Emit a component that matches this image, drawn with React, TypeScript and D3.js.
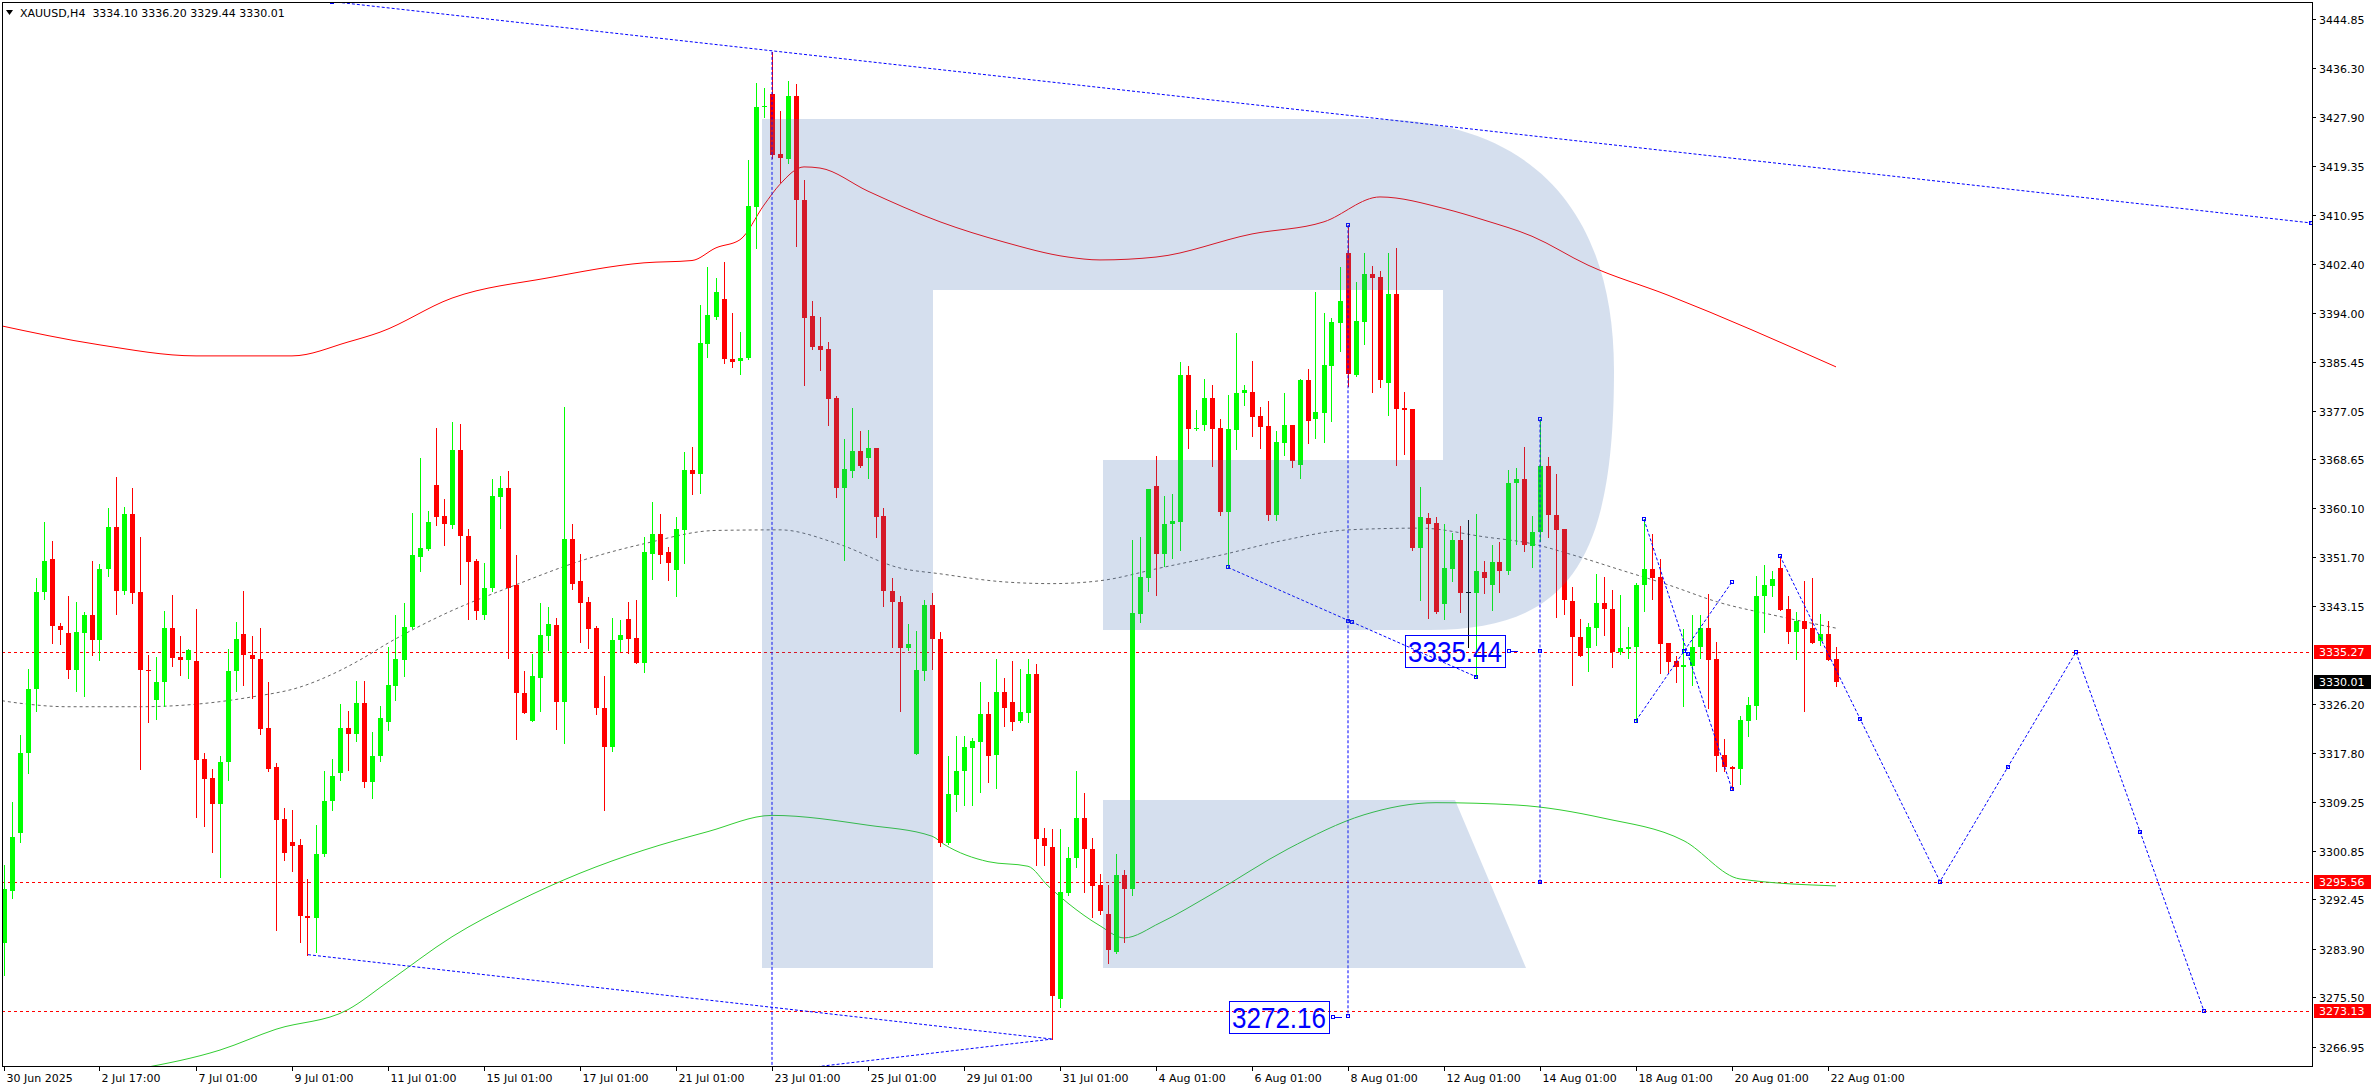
import React, { useEffect, useRef } from 'react';
import * as d3 from 'd3';

const W = 2376;
const H = 1090;
const PLOT_L = 2;
const PLOT_T = 2;
const PLOT_R = 2312;
const PLOT_B = 1066;

// H4 candles, one per bar index: [open, high, low, close]
const candles: number[][] = [
  [3284.9, 3298.5, 3279.4, 3294.2], [3294.0, 3309.4, 3292.7, 3303.2], [3304.0, 3320.9, 3302.4, 3317.8],
  [3317.8, 3332.3, 3314.3, 3328.8], [3328.8, 3348.0, 3325.1, 3345.7], [3345.7, 3357.8, 3344.4, 3351.1],
  [3351.3, 3354.4, 3336.9, 3339.7], [3339.7, 3340.3, 3336.7, 3339.1], [3338.5, 3344.9, 3330.8, 3332.1],
  [3332.1, 3343.9, 3328.6, 3338.7], [3338.6, 3342.2, 3327.6, 3341.7], [3341.7, 3351.1, 3334.8, 3337.4],
  [3337.4, 3350.5, 3333.8, 3349.7], [3349.6, 3360.1, 3348.4, 3356.9], [3356.9, 3365.6, 3341.9, 3345.9],
  [3345.9, 3360.3, 3345.3, 3359.2], [3359.2, 3363.7, 3343.8, 3345.5], [3345.6, 3355.2, 3315.0, 3332.1],
  [3332.1, 3334.8, 3323.1, 3332.0], [3326.9, 3334.4, 3323.6, 3330.1], [3330.1, 3342.4, 3326.0, 3339.4],
  [3339.4, 3345.1, 3332.9, 3334.3], [3334.4, 3338.0, 3331.3, 3333.8], [3333.8, 3335.8, 3330.8, 3335.6],
  [3333.7, 3342.7, 3306.7, 3316.6], [3316.7, 3317.8, 3305.1, 3313.3], [3313.4, 3315.1, 3300.7, 3309.0],
  [3309.0, 3317.2, 3296.3, 3316.3], [3316.3, 3335.8, 3313.2, 3332.0], [3332.0, 3340.5, 3328.5, 3337.5],
  [3338.3, 3345.8, 3329.6, 3334.7], [3334.8, 3338.0, 3327.3, 3334.0], [3334.1, 3339.4, 3321.0, 3321.9],
  [3322.2, 3330.0, 3314.7, 3315.1], [3315.3, 3316.0, 3287.1, 3306.2], [3306.3, 3308.2, 3299.3, 3300.5],
  [3302.4, 3308.0, 3297.3, 3301.7], [3301.9, 3303.0, 3285.1, 3289.6], [3289.6, 3296.0, 3282.9, 3289.3],
  [3289.3, 3305.3, 3283.4, 3300.3], [3300.3, 3314.6, 3299.9, 3309.5], [3309.5, 3316.8, 3308.0, 3313.9],
  [3314.3, 3326.3, 3313.2, 3322.2], [3322.2, 3325.1, 3314.8, 3321.1], [3321.1, 3330.3, 3319.8, 3326.5],
  [3326.5, 3330.3, 3311.9, 3312.7], [3312.7, 3321.5, 3310.0, 3317.3], [3317.3, 3326.0, 3316.4, 3323.9],
  [3323.1, 3336.1, 3321.7, 3329.6], [3329.4, 3341.7, 3327.0, 3334.1], [3333.9, 3343.8, 3331.1, 3339.6],
  [3339.6, 3359.4, 3339.4, 3352.1], [3351.7, 3368.9, 3349.2, 3353.3], [3353.1, 3359.7, 3353.0, 3357.8],
  [3364.1, 3374.1, 3357.2, 3358.6], [3358.8, 3361.7, 3353.7, 3357.5], [3357.3, 3375.1, 3356.7, 3370.3],
  [3370.3, 3374.8, 3347.1, 3355.3], [3355.4, 3356.5, 3340.9, 3350.9], [3351.1, 3351.3, 3341.0, 3342.4],
  [3341.7, 3350.7, 3341.0, 3346.4], [3346.3, 3365.2, 3345.8, 3362.3], [3362.1, 3365.7, 3356.7, 3363.6],
  [3363.6, 3366.6, 3334.3, 3346.3], [3346.8, 3352.1, 3320.2, 3328.1], [3328.2, 3331.9, 3324.8, 3324.8],
  [3323.3, 3335.0, 3323.3, 3331.1], [3330.8, 3343.8, 3325.0, 3338.2], [3338.0, 3343.1, 3335.7, 3340.1],
  [3339.9, 3341.2, 3321.9, 3326.7], [3326.7, 3377.7, 3319.6, 3354.8], [3354.8, 3357.5, 3346.2, 3347.0],
  [3347.5, 3352.3, 3337.0, 3343.8], [3344.0, 3344.8, 3335.9, 3339.2], [3339.5, 3339.7, 3324.6, 3325.5],
  [3325.6, 3331.2, 3308.0, 3318.9], [3318.9, 3341.1, 3318.2, 3337.4], [3337.3, 3340.8, 3335.4, 3338.2],
  [3341.0, 3344.0, 3335.1, 3337.6], [3337.7, 3344.3, 3333.3, 3333.3], [3333.3, 3355.1, 3331.8, 3352.5],
  [3352.3, 3361.3, 3347.9, 3355.6], [3355.6, 3359.2, 3350.6, 3352.1], [3352.5, 3353.5, 3347.7, 3350.7],
  [3349.5, 3358.7, 3344.9, 3356.6], [3356.3, 3369.8, 3350.6, 3366.8], [3366.8, 3370.8, 3362.6, 3366.1],
  [3366.0, 3395.3, 3362.8, 3388.7], [3388.6, 3401.8, 3386.3, 3393.5], [3393.3, 3399.9, 3392.9, 3397.6],
  [3396.4, 3402.8, 3385.2, 3385.9], [3386.0, 3394.0, 3384.5, 3385.4], [3385.6, 3390.7, 3383.3, 3386.2],
  [3386.1, 3420.4, 3385.9, 3412.5], [3412.3, 3433.8, 3405.2, 3429.5], [3429.5, 3432.8, 3427.8, 3429.8],
  [3431.8, 3439.1, 3420.7, 3421.3], [3421.4, 3428.8, 3416.6, 3420.7], [3420.6, 3434.0, 3419.8, 3431.5],
  [3431.5, 3433.5, 3405.5, 3413.5], [3413.5, 3416.9, 3381.4, 3393.1], [3393.4, 3396.0, 3387.7, 3388.0],
  [3388.2, 3393.3, 3384.1, 3387.6], [3387.7, 3388.9, 3374.5, 3379.0], [3379.2, 3379.6, 3362.1, 3363.6],
  [3363.6, 3372.1, 3351.2, 3366.9], [3366.6, 3377.5, 3365.6, 3370.0], [3370.0, 3373.5, 3367.2, 3367.4],
  [3368.9, 3373.7, 3365.3, 3370.6], [3370.5, 3370.6, 3355.2, 3358.6], [3358.8, 3360.2, 3343.2, 3345.8],
  [3345.9, 3348.1, 3336.1, 3343.9], [3344.0, 3345.0, 3325.0, 3335.9], [3335.9, 3340.1, 3335.6, 3336.7],
  [3317.6, 3338.9, 3317.6, 3332.1], [3331.9, 3344.3, 3330.5, 3343.4], [3343.4, 3345.4, 3332.4, 3337.6],
  [3337.6, 3338.8, 3301.7, 3302.2], [3302.2, 3317.3, 3302.0, 3310.7], [3310.6, 3320.8, 3307.7, 3314.7],
  [3314.6, 3320.8, 3308.8, 3318.9], [3318.6, 3320.4, 3308.8, 3319.9], [3319.7, 3330.0, 3311.0, 3324.6],
  [3324.6, 3326.6, 3312.8, 3317.3], [3317.4, 3334.1, 3311.8, 3328.4], [3328.4, 3330.8, 3322.4, 3325.5],
  [3326.6, 3333.7, 3321.8, 3323.2], [3323.3, 3332.4, 3323.1, 3324.9], [3324.7, 3334.1, 3323.2, 3331.4],
  [3331.4, 3333.2, 3298.5, 3302.9], [3303.1, 3304.9, 3298.5, 3301.7], [3301.6, 3304.7, 3268.3, 3275.7],
  [3275.2, 3304.6, 3273.8, 3293.7], [3293.6, 3301.6, 3293.2, 3299.7], [3299.6, 3314.7, 3298.0, 3306.6],
  [3306.6, 3310.9, 3293.7, 3301.2], [3301.2, 3303.1, 3289.5, 3294.8], [3295.0, 3296.9, 3290.0, 3290.5],
  [3289.9, 3295.0, 3281.4, 3283.7], [3283.4, 3300.3, 3283.2, 3296.7], [3296.7, 3297.5, 3285.1, 3294.3],
  [3294.3, 3354.7, 3293.2, 3342.1], [3341.9, 3355.2, 3340.4, 3348.2], [3348.1, 3363.4, 3345.9, 3363.4],
  [3364.0, 3369.2, 3345.1, 3352.2], [3352.2, 3362.3, 3350.2, 3357.5], [3357.5, 3362.6, 3351.6, 3357.9],
  [3357.8, 3385.4, 3352.9, 3383.2], [3383.2, 3384.8, 3370.6, 3373.8], [3373.8, 3377.1, 3373.6, 3374.1],
  [3374.6, 3382.5, 3373.6, 3379.2], [3379.2, 3381.5, 3367.5, 3373.8], [3374.0, 3375.6, 3358.9, 3359.5],
  [3359.5, 3379.7, 3349.9, 3373.8], [3373.7, 3390.5, 3370.4, 3380.1], [3380.0, 3381.5, 3378.0, 3380.6],
  [3380.3, 3385.6, 3372.6, 3376.0], [3376.1, 3377.7, 3370.6, 3374.2], [3374.4, 3378.7, 3358.1, 3358.9],
  [3358.9, 3373.5, 3358.1, 3371.6], [3371.5, 3380.1, 3369.4, 3374.5], [3374.5, 3374.6, 3367.2, 3368.4],
  [3367.6, 3382.5, 3365.3, 3382.3], [3382.3, 3384.2, 3371.5, 3375.3], [3375.5, 3397.5, 3372.3, 3376.8],
  [3376.7, 3393.9, 3371.6, 3384.9], [3384.8, 3393.1, 3375.2, 3392.4], [3392.2, 3401.9, 3387.3, 3396.0],
  [3404.3, 3409.1, 3381.3, 3383.4], [3383.2, 3399.3, 3383.0, 3392.5], [3392.4, 3404.3, 3388.6, 3400.7],
  [3400.7, 3402.1, 3380.3, 3400.0], [3400.1, 3401.2, 3381.1, 3382.3], [3381.8, 3404.3, 3376.3, 3397.2],
  [3397.2, 3405.2, 3367.6, 3377.3], [3377.5, 3380.3, 3369.5, 3377.1], [3377.3, 3377.3, 3352.9, 3353.2],
  [3353.3, 3363.9, 3344.3, 3358.6], [3358.5, 3359.3, 3341.2, 3357.4], [3357.6, 3358.7, 3342.1, 3342.2],
  [3343.6, 3357.5, 3340.9, 3349.8], [3349.7, 3355.9, 3347.6, 3354.7], [3354.7, 3357.1, 3342.2, 3345.5],
  [3345.6, 3358.1, 3336.2, 3345.6], [3345.5, 3359.2, 3331.0, 3349.2], [3349.1, 3351.0, 3345.5, 3348.1],
  [3346.9, 3353.8, 3342.6, 3350.8], [3350.8, 3354.3, 3345.7, 3349.2], [3349.2, 3366.7, 3348.8, 3364.5],
  [3364.5, 3367.1, 3354.0, 3365.2], [3365.2, 3370.7, 3352.7, 3353.7], [3353.6, 3358.8, 3349.9, 3356.0],
  [3356.0, 3375.5, 3354.5, 3367.5], [3367.5, 3369.0, 3355.2, 3358.9], [3359.0, 3366.0, 3341.4, 3356.4],
  [3356.5, 3356.5, 3341.8, 3344.2], [3344.1, 3346.6, 3329.6, 3337.8], [3337.9, 3341.0, 3334.5, 3334.6],
  [3336.0, 3340.2, 3332.0, 3339.6], [3339.5, 3348.8, 3336.5, 3343.8], [3343.8, 3348.2, 3338.2, 3342.7],
  [3342.7, 3346.0, 3332.7, 3335.3], [3335.3, 3345.1, 3334.9, 3335.9], [3335.8, 3339.6, 3334.3, 3336.1],
  [3336.1, 3347.2, 3323.4, 3346.8], [3346.8, 3358.2, 3342.3, 3349.6], [3349.6, 3355.7, 3344.4, 3348.1],
  [3348.2, 3351.4, 3331.6, 3336.7], [3336.8, 3336.8, 3331.6, 3333.6], [3333.7, 3334.5, 3330.1, 3332.7],
  [3332.7, 3339.3, 3325.9, 3333.0], [3332.9, 3341.7, 3329.6, 3336.1], [3336.1, 3341.7, 3334.3, 3339.4],
  [3339.4, 3345.3, 3325.6, 3333.9], [3334.1, 3337.0, 3314.7, 3317.3], [3317.5, 3320.2, 3314.7, 3315.4],
  [3315.4, 3315.6, 3311.5, 3315.1], [3315.1, 3324.2, 3312.4, 3323.5], [3323.4, 3327.5, 3320.8, 3326.1],
  [3326.0, 3348.4, 3323.7, 3345.0], [3344.9, 3350.3, 3338.8, 3346.8], [3346.7, 3349.3, 3345.0, 3347.9],
  [3349.8, 3351.7, 3342.5, 3342.5], [3342.7, 3345.0, 3336.9, 3338.8], [3338.8, 3342.2, 3334.1, 3340.6],
  [3340.6, 3347.6, 3325.1, 3339.3], [3339.4, 3348.1, 3336.9, 3336.9], [3337.1, 3341.8, 3336.5, 3338.4],
  [3338.4, 3340.7, 3333.9, 3333.9], [3334.10, 3336.20, 3329.44, 3330.01],
];

// moving averages sampled at bar indices: [bar, price]
const redMA: number[][] = [
  [-1, 3391.9], [12, 3388.4], [24, 3386.5], [36, 3386.5], [43, 3388.9], [47, 3390.6], [56, 3396.5],
  [68, 3400.0], [80, 3402.6], [86, 3403.0], [89, 3405.2], [92, 3406.6], [95, 3412.6], [97, 3416.2],
  [100, 3419.2], [102, 3419.0], [108, 3415.0], [117, 3409.7], [125, 3406.2], [133, 3403.6],
  [137, 3403.1], [144, 3403.6], [156, 3407.6], [165, 3409.7], [172, 3414.0], [180, 3412.0],
  [185, 3410.0], [191, 3407.2], [198, 3402.2], [208, 3397.0], [229, 3384.6],
];
const grayMA: number[][] = [
  [-1, 3327.0], [2, 3326.4], [8, 3325.8], [17, 3325.8], [24.5, 3326.3], [31, 3327.5], [37, 3329.2],
  [41, 3331.4], [44.5, 3333.9], [48, 3336.8], [55, 3341.8], [64, 3346.9], [72, 3351.0], [80, 3354.0],
  [89, 3356.3], [97, 3356.4], [104, 3354.1], [112, 3349.8], [117, 3348.8], [125, 3347.4], [131, 3347.1],
  [137, 3347.6], [144.5, 3349.8], [152, 3352.0], [160, 3354.6], [168, 3356.4], [177, 3356.7],
  [185, 3355.2], [191, 3354.0], [196, 3352.1], [202, 3349.5], [208, 3346.9], [214.5, 3343.8],
  [221, 3341.7], [229, 3339.4],
];
const greenMA: number[][] = [
  [17, 3263.2], [27, 3266.4], [34, 3270.0], [43, 3273.4], [48, 3278.2], [56, 3286.0], [64, 3292.0],
  [72, 3297.0], [80, 3301.0], [88, 3304.2], [96, 3307.0], [108, 3305.3], [116, 3303.4], [117.5, 3302.0],
  [123, 3299.0], [128, 3298.2], [130.5, 3294.8], [133, 3291.8], [137, 3287.9], [140, 3285.8],
  [144.5, 3288.4], [151, 3293.4], [160.5, 3301.2], [170, 3307.1], [179, 3309.2], [189, 3308.8],
  [200, 3306.5], [210, 3302.6], [217, 3296.0], [229, 3294.8],
];

const levels = [3335.27, 3295.56, 3273.13];
const lastPrice = 3330.01;

const priceTicks = [
  3444.85, 3436.30, 3427.90, 3419.35, 3410.95, 3402.40, 3394.00, 3385.45, 3377.05, 3368.65, 3360.10,
  3351.70, 3343.15, 3326.20, 3317.80, 3309.25, 3300.85, 3292.45, 3283.90, 3275.50, 3266.95,
];

const timeLabels: [number, string][] = [
  [0, '30 Jun 2025'], [12, '2 Jul 17:00'], [24, '7 Jul 01:00'], [36, '9 Jul 01:00'], [48, '11 Jul 01:00'],
  [60, '15 Jul 01:00'], [72, '17 Jul 01:00'], [84, '21 Jul 01:00'], [96, '23 Jul 01:00'],
  [108, '25 Jul 01:00'], [120, '29 Jul 01:00'], [132, '31 Jul 01:00'], [144, '4 Aug 01:00'],
  [156, '6 Aug 01:00'], [168, '8 Aug 01:00'], [180, '12 Aug 01:00'], [192, '14 Aug 01:00'],
  [204, '18 Aug 01:00'], [216, '20 Aug 01:00'], [228, '22 Aug 01:00'],
];

// blue dotted drawings: [bar, price] end points, and which get anchor squares
const trendLines: number[][][] = [
  [[41, 3447.8], [288.4, 3409.5]],
  [[38, 3282.9], [131, 3268.3]],
  [[96, 3262.6], [131, 3268.3]],
  [[96, 3439.1], [96, 3262.6]],
  [[168, 3409.1], [168, 3272.3]],
  [[192, 3375.5], [192, 3295.4]],
  [[153, 3349.9], [184, 3331.0]],
  [[205, 3358.2], [216, 3311.5]],
  [[204, 3323.4], [216, 3347.4]],
];
const trendMarked = ['ends', 'none', 'none', 'none', 'all', 'all', 'all', 'all', 'all'];
const forecast: number[][] = [[222, 3351.9], [242, 3295.56], [259, 3335.27], [275, 3273.13]];

const priceLabels = [
  { text: '3335.44', price: 3335.44, rightBar: 187.6 },
  { text: '3272.16', price: 3272.16, rightBar: 165.6 },
];

const FONT = '"DejaVu Sans", Verdana, sans-serif';

export default function App() {
  const ref = useRef<SVGSVGElement>(null);

  useEffect(() => {
    const svg = d3.select(ref.current);
    svg.selectAll('*').remove();

    const x = d3.scaleLinear().domain([-0.5, 288.5]).range([0, PLOT_R]);
    const y = d3.scaleLinear().domain([3263.64, 3447.73]).range([PLOT_B, PLOT_T]);

    svg.append('rect').attr('width', W).attr('height', H).attr('fill', '#fff');

    svg.append('defs').append('clipPath').attr('id', 'plot')
      .append('rect').attr('x', PLOT_L).attr('y', PLOT_T)
      .attr('width', PLOT_R - PLOT_L).attr('height', PLOT_B - PLOT_T);

    const plot = svg.append('g').attr('clip-path', 'url(#plot)');

    // levels
    levels.forEach(p => {
      const yy = Math.round(y(p)) + 0.5;
      plot.append('line').attr('x1', PLOT_L).attr('x2', PLOT_R).attr('y1', yy).attr('y2', yy)
        .attr('stroke', '#ff0000').attr('stroke-dasharray', '3,3');
    });

    // moving averages
    const line = d3.line<number[]>().x(d => x(d[0])).y(d => y(d[1])).curve(d3.curveMonotoneX);
    plot.append('path').attr('d', line(redMA)).attr('fill', 'none').attr('stroke', '#ff0000');
    plot.append('path').attr('d', line(grayMA)).attr('fill', 'none').attr('stroke', '#666')
      .attr('stroke-dasharray', '3,3');
    plot.append('path').attr('d', line(greenMA)).attr('fill', 'none').attr('stroke', '#32cd32');

    // candles
    candles.forEach((c, i) => {
      const [o, h, l, cl] = c;
      const cx = Math.floor(x(i));
      const col = cl > o ? '#00ff00' : cl < o ? '#ff0000' : '#000000';
      plot.append('line').attr('x1', cx + 0.5).attr('x2', cx + 0.5)
        .attr('y1', Math.round(y(h))).attr('y2', Math.round(y(l)) + 1).attr('stroke', col);
      const top = Math.round(y(Math.max(o, cl)));
      const bot = Math.round(y(Math.min(o, cl)));
      if (o === cl) {
        plot.append('line').attr('x1', cx - 2).attr('x2', cx + 3).attr('y1', top + 0.5).attr('y2', top + 0.5)
          .attr('stroke', col);
      } else {
        plot.append('rect').attr('x', cx - 2).attr('y', top).attr('width', 5)
          .attr('height', Math.max(1, bot - top)).attr('fill', col);
      }
    });

    // blue drawings
    const blue = '#0000ff';
    const markers: number[][] = [];
    trendLines.forEach((seg, k) => {
      plot.append('line')
        .attr('x1', x(seg[0][0])).attr('y1', y(seg[0][1]))
        .attr('x2', x(seg[1][0])).attr('y2', y(seg[1][1]))
        .attr('stroke', blue).attr('stroke-dasharray', '3,2');
      if (trendMarked[k] !== 'none') markers.push(seg[0], seg[1]);
      if (trendMarked[k] === 'all') markers.push([(seg[0][0] + seg[1][0]) / 2, (seg[0][1] + seg[1][1]) / 2]);
    });
    const straight = d3.line<number[]>().x(d => x(d[0])).y(d => y(d[1]));
    plot.append('path').attr('d', straight(forecast)).attr('fill', 'none')
      .attr('stroke', blue).attr('stroke-dasharray', '3,2');
    forecast.forEach((p, i) => {
      markers.push(p);
      if (i > 0) markers.push([(p[0] + forecast[i - 1][0]) / 2, (p[1] + forecast[i - 1][1]) / 2]);
    });
    markers.forEach(m => {
      plot.append('rect').attr('x', Math.round(x(m[0])) - 1.5).attr('y', Math.round(y(m[1])) - 1.5)
        .attr('width', 3).attr('height', 3).attr('fill', 'none').attr('stroke', blue);
    });

    // watermark
    plot.append('path')
      .attr('d', 'M762,119 H1371 C1540,119 1614,220 1614,370 C1614,560 1570,630 1430,630 H1103 V460 H1443 V290 H933 V968 H762 Z M1103,800 H1455 L1526,968 H1103 Z')
      .attr('fill', 'rgb(67,112,178)').attr('opacity', 0.224);

    // price labels on chart
    priceLabels.forEach(lb => {
      const xr = Math.round(x(lb.rightBar));
      const yc = Math.round(y(lb.price));
      plot.append('rect').attr('x', xr - 100 + 0.5).attr('y', yc - 16 + 0.5).attr('width', 100).attr('height', 32)
        .attr('fill', 'none').attr('stroke', blue);
      plot.append('text').attr('x', xr - 97).attr('y', yc + 11).attr('font-family', '"Liberation Sans", Arial, sans-serif')
        .attr('font-size', 30).attr('fill', blue).attr('textLength', 94).attr('lengthAdjust', 'spacingAndGlyphs')
        .text(lb.text);
      plot.append('rect').attr('x', xr + 2.5).attr('y', yc - 1.5).attr('width', 3).attr('height', 3)
        .attr('fill', 'none').attr('stroke', blue);
      plot.append('line').attr('x1', xr + 6).attr('x2', xr + 13).attr('y1', yc + 0.5).attr('y2', yc + 0.5)
        .attr('stroke', blue);
    });

    // frame
    svg.append('rect').attr('x', PLOT_L + 0.5).attr('y', PLOT_T + 0.5)
      .attr('width', PLOT_R - PLOT_L).attr('height', PLOT_B - PLOT_T)
      .attr('fill', 'none').attr('stroke', '#000');

    // price axis
    const ax = svg.append('g').attr('font-family', FONT).attr('font-size', 11);
    priceTicks.forEach(p => {
      const yy = Math.round(y(p)) + 0.5;
      ax.append('line').attr('x1', PLOT_R).attr('x2', PLOT_R + 4).attr('y1', yy).attr('y2', yy).attr('stroke', '#000');
      ax.append('text').attr('x', PLOT_R + 7).attr('y', yy + 4).attr('fill', '#000').text(p.toFixed(2));
    });
    const tag = (p: number, bg: string) => {
      const yy = Math.round(y(p));
      ax.append('rect').attr('x', PLOT_R + 2).attr('y', yy - 7).attr('width', 57).attr('height', 14).attr('fill', bg);
      ax.append('text').attr('x', PLOT_R + 7).attr('y', yy + 4).attr('fill', '#fff').text(p.toFixed(2));
    };
    levels.forEach(p => tag(p, '#ff0000'));
    tag(lastPrice, '#000000');

    // time axis
    timeLabels.forEach(([b, t]) => {
      const xx = Math.floor(x(b)) + 0.5;
      ax.append('line').attr('x1', xx).attr('x2', xx).attr('y1', PLOT_B).attr('y2', PLOT_B + 5).attr('stroke', '#000');
      ax.append('text').attr('x', xx + 2).attr('y', PLOT_B + 16).attr('fill', '#000').text(t);
    });

    // header
    svg.append('path').attr('d', 'M6,10 L13,10 L9.5,15 Z').attr('fill', '#000');
    svg.append('text').attr('x', 20).attr('y', 17).attr('font-family', FONT).attr('font-size', 11)
      .attr('fill', '#000').attr('xml:space', 'preserve')
      .text('XAUUSD,H4  3334.10 3336.20 3329.44 3330.01');
  }, []);

  return (
    <div style={{ position: 'absolute', left: 0, top: 0 }}>
      <svg ref={ref} width={W} height={H} style={{ display: 'block' }} />
    </div>
  );
}
